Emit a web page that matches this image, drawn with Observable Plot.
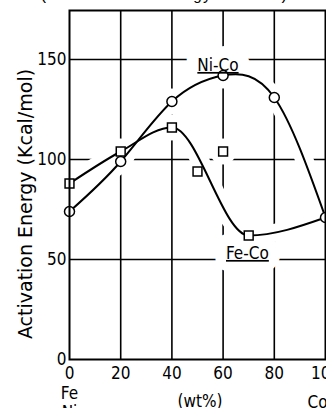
<!DOCTYPE html>
<html><head><meta charset="utf-8">
<script src="https://cdn.jsdelivr.net/npm/d3@7"></script>
<script src="https://cdn.jsdelivr.net/npm/@observablehq/plot@0.6"></script>
<style>html,body{margin:0;padding:0;background:#fff;overflow:hidden} svg{display:block}</style>
</head><body><div id="chart"></div>
<script>
// ---- data ----
const xTicks = [0, 20, 40, 60, 80, 100];
const yTicks = [0, 50, 100, 150];
const niCoPct = [0, 20, 40, 60, 80, 100];
const niCoEnergy = [74, 99, 129, 142, 131, 71];
const feCoPct = [0, 20, 40, 50, 60, 70];
const feCoEnergy = [88, 104, 116, 94, 104, 62];
const feCoOnCurve = [true, true, true, false, false, true];
const seriesLabels = ["Ni-Co", "Fe-Co"];
const yLabel = "Activation Energy (Kcal/mol)";
const unitLabel = "(wt%)";
const leftEndLabels = ["Fe", "Ni"];
const rightEndLabel = "Co";
const topText = "and (Activation Energy Values)";

// ---- tables built from the arrays ----
const niCo = niCoPct.map((x, i) => ({x, y: niCoEnergy[i]}));
const feCoPoints = feCoPct.map((x, i) => ({x, y: feCoEnergy[i], on: feCoOnCurve[i]}));
// pure Co (100 wt%) is the same end point for both alloy series
const feCoCurve = [...feCoPoints.filter(d => d.on), niCo[niCo.length - 1]];
const labelPos = [{x: 58, y: 147}, {x: 69.5, y: 53}];
const labelRows = seriesLabels.map((t, i) => ({t, ...labelPos[i]}));

const font = "'DejaVu Sans Condensed','DejaVu Sans',sans-serif";

const plot = Plot.plot({
  width: 326, height: 408,
  marginLeft: 69, marginRight: 1, marginTop: 10, marginBottom: 49,
  style: {fontFamily: font, fontSize: "17px", color: "black", background: "white"},
  x: {domain: [0, 100], ticks: xTicks, tickSize: 0, tickPadding: 7, label: null},
  y: {domain: [0, 174.5], ticks: yTicks, tickSize: 0, tickPadding: 3, label: null},
  marks: [
    Plot.gridX(xTicks.slice(1, -1), {stroke: "black", strokeOpacity: 1, strokeWidth: 1.6}),
    Plot.gridY(yTicks.slice(1), {stroke: "black", strokeOpacity: 1, strokeWidth: 1.6}),
    // white halos that break the grid around curves, points and labels
    Plot.line(niCo, {x: "x", y: "y", curve: "natural", stroke: "white", strokeWidth: 18}),
    Plot.line(feCoCurve, {x: "x", y: "y", curve: "monotone-x", stroke: "white", strokeWidth: 18}),
    Plot.dot([...niCo, ...feCoPoints], {x: "x", y: "y", r: 13, fill: "white", stroke: null}),
    Plot.text(labelRows, {x: "x", y: "y", text: "t", fill: "white", stroke: "white", strokeWidth: 24, fontSize: 17}),
    // curves
    Plot.line(niCo, {x: "x", y: "y", curve: "natural", stroke: "black", strokeWidth: 2}),
    Plot.line(feCoCurve, {x: "x", y: "y", curve: "monotone-x", stroke: "black", strokeWidth: 2}),
    Plot.dot(feCoPoints, {x: "x", y: "y", symbol: "square", r: 5, fill: "white", stroke: "black", strokeWidth: 1.5}),
    Plot.dot(niCo, {x: "x", y: "y", symbol: "circle", r: 5, fill: "white", stroke: "black", strokeWidth: 1.5}),
    Plot.text(labelRows, {x: "x", y: "y", text: "t", fill: "black", fontSize: 17, className: "series-label"}),
    Plot.frame({stroke: "black", strokeWidth: 2}),
    // axis-side texts
    Plot.text([yLabel], {frameAnchor: "left", textAnchor: "middle", rotate: -90, dx: -44, dy: 19, text: d => d, fontFamily: "'DejaVu Sans',sans-serif", fontSize: 19}),
    Plot.text([leftEndLabels[0]], {x: 0, frameAnchor: "bottom", dy: 39, text: d => d, fontSize: 17}),
    Plot.text([leftEndLabels[1]], {x: 0, frameAnchor: "bottom", dy: 58, text: d => d, fontSize: 17}),
    Plot.text([unitLabel], {x: 51, frameAnchor: "bottom", dy: 47, text: d => d, fontSize: 17}),
    Plot.text([rightEndLabel], {x: 100, frameAnchor: "bottom", dy: 48, dx: 2, textAnchor: "end", text: d => d, fontSize: 17}),
    Plot.text([topText], {frameAnchor: "top-left", dx: -69, dy: -11, lineAnchor: "bottom", textAnchor: "start", text: d => d, fontFamily: "'Liberation Mono',monospace", fontSize: 16})
  ]
});
d3.select(plot).selectAll("g.series-label text")
  .attr("text-decoration", "underline")
  .style("text-decoration", "underline");
document.getElementById("chart").appendChild(plot);
</script>
</body></html>
